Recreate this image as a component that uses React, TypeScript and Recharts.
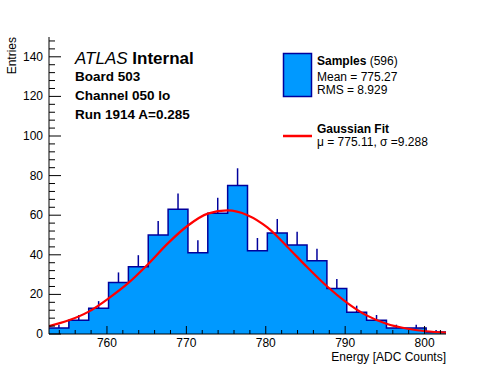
import React from 'react';
import { ComposedChart, Area, Line, Scatter, ErrorBar, XAxis, YAxis } from 'recharts';

// histogram bin edges (ADC counts) and entries per bin
const binEdges = [
  752.7, 755.2, 757.7, 760.2, 762.7, 765.2, 767.7, 770.2, 772.7, 775.2, 777.7,
  780.2, 782.7, 785.2, 787.7, 790.2, 792.7, 795.2, 797.7, 800.2, 802.7,
];
const counts = [3, 7, 13, 26, 34, 50, 63, 41, 61, 75, 42, 51, 45, 37, 23, 11, 7, 3, 3, 1];
// upper error bar length
const errUp = [1.7, 2.6, 3.6, 5.1, 5.8, 7.1, 7.9, 6.4, 7.8, 8.7, 6.5, 7.1, 6.7, 6.1, 4.8, 3.3, 2.6, 1.7, 1.7, 1.0];

// red fit curve
const fitX = [
  752.7, 755.2, 757.7, 760.2, 762.7, 765.2, 767.7, 770.2, 772.7, 775.2, 777.7,
  780.2, 782.7, 785.2, 787.7, 790.2, 792.7, 795.2, 797.7, 800.2, 802.7,
];
const fitY = [
  4.0, 6.9, 11.3, 18.0, 25.8, 35.4, 45.9, 54.8, 60.8, 62.4, 60.0,
  53.8, 44.1, 33.8, 24.1, 15.9, 9.4, 5.2, 2.8, 1.4, 0.7,
];

const xTicks = [
  754, 756, 758, 760, 762, 764, 766, 768, 770, 772, 774, 776, 778, 780,
  782, 784, 786, 788, 790, 792, 794, 796, 798, 800, 802,
];
const yTicks = [
  0, 4, 8, 12, 16, 20, 24, 28, 32, 36, 40, 44, 48, 52, 56, 60, 64, 68, 72, 76,
  80, 84, 88, 92, 96, 100, 104, 108, 112, 116, 120, 124, 128, 132, 136, 140, 144, 148,
];

const FONT = '"Liberation Sans", Arial, Helvetica, sans-serif';
const FILL = '#0099ff';
const EDGE = '#00009c';

const histData = binEdges.map((x, i) => ({ x, y: counts[Math.min(i, counts.length - 1)] }));
const errData = counts.map((c, i) => ({
  x: (binEdges[i] + binEdges[i + 1]) / 2,
  y: c,
  err: [0, errUp[i]],
}));
const fitData = fitX.map((x, i) => ({ x, y: fitY[i] }));

const XTick = (props: any) => {
  const { x, y, payload } = props;
  const v = payload.value;
  const major = v % 10 === 0;
  return (
    <g>
      <line x1={x} x2={x} y1={y} y2={y - (major ? 8 : 4)} stroke="#000" />
      {major && (
        <text x={x} y={y + 12.5} textAnchor="middle" fontSize={12} fontFamily={FONT} fill="#000">
          {v}
        </text>
      )}
    </g>
  );
};

const YTick = (props: any) => {
  const { x, y, payload } = props;
  const v = payload.value;
  const major = v % 20 === 0;
  return (
    <g>
      <line x1={x} x2={x + (major ? 12 : 6)} y1={y} y2={y} stroke="#000" />
      {major && (
        <text x={x - 6} y={y + 4} textAnchor="end" fontSize={12} fontFamily={FONT} fill="#000">
          {v}
        </text>
      )}
    </g>
  );
};

export default function App() {
  return (
    <div style={{ position: 'absolute', left: 0, top: 0, width: 496, height: 372, background: '#fff' }}>
      <ComposedChart width={496} height={372} margin={{ top: 37, right: 50, bottom: 0, left: 0 }}>
        <XAxis
          type="number"
          dataKey="x"
          domain={[752.7, 802.7]}
          ticks={xTicks}
          interval={0}
          tickSize={0}
          tickMargin={0}
          tickLine={false}
          tick={<XTick />}
          axisLine={{ stroke: '#000' }}
          height={38}
          allowDataOverflow
        />
        <XAxis
          xAxisId="top"
          orientation="top"
          type="number"
          domain={[752.7, 802.7]}
          height={0}
          tick={false}
          tickLine={false}
          axisLine={{ stroke: '#000' }}
        />
        <YAxis
          type="number"
          domain={[0, 150]}
          ticks={yTicks}
          interval={0}
          tickSize={0}
          tickMargin={0}
          tickLine={false}
          tick={<YTick />}
          axisLine={{ stroke: '#000' }}
          width={49}
          allowDataOverflow
        />
        <YAxis
          yAxisId="right"
          orientation="right"
          type="number"
          domain={[0, 150]}
          width={0}
          tick={false}
          tickLine={false}
          axisLine={{ stroke: '#000' }}
        />
        <Area
          data={histData}
          dataKey="y"
          type="stepAfter"
          fill={FILL}
          fillOpacity={1}
          stroke={EDGE}
          strokeWidth={1.5}
          isAnimationActive={false}
        />
        <Scatter data={errData} dataKey="y" shape={() => <g />} isAnimationActive={false}>
          <ErrorBar dataKey="err" direction="y" width={0} stroke={EDGE} strokeWidth={1.5} />
        </Scatter>
        <Line
          data={fitData}
          dataKey="y"
          type="monotone"
          stroke="#ff0000"
          strokeWidth={2.2}
          dot={false}
          isAnimationActive={false}
        />
      </ComposedChart>

      <svg
        width={496}
        height={372}
        style={{ position: 'absolute', left: 0, top: 0, pointerEvents: 'none' }}
        fontFamily={FONT}
      >
        <text transform="translate(15.5,37) rotate(-90)" textAnchor="end" fontSize={12}>
          Entries
        </text>
        <text x={446} y={360.5} textAnchor="end" fontSize={12}>
          Energy [ADC Counts]
        </text>

        <text x={75} y={63.5} fontSize={17}>
          <tspan fontStyle="italic">ATLAS</tspan>
          <tspan fontWeight="bold"> Internal</tspan>
        </text>
        <text x={75} y={81} fontSize={13.5} fontWeight="bold">Board 503</text>
        <text x={75} y={100} fontSize={13.5} fontWeight="bold">Channel 050 lo</text>
        <text x={75} y={118.5} fontSize={13.5} fontWeight="bold">Run 1914 A=0.285</text>

        <rect x={283.5} y={53.5} width={28} height={43} fill={FILL} stroke={EDGE} strokeWidth={1.5} />
        <text x={317} y={65} fontSize={12}>
          <tspan fontWeight="bold">Samples</tspan>
          <tspan> (596)</tspan>
        </text>
        <text x={317} y={80.5} fontSize={12}>Mean = 775.27</text>
        <text x={317} y={93.5} fontSize={12}>RMS = 8.929</text>

        <line x1={283} x2={312} y1={136} y2={136} stroke="#ff0000" strokeWidth={2.5} />
        <text x={317} y={132.5} fontSize={12} fontWeight="bold">Gaussian Fit</text>
        <text x={317} y={145.5} fontSize={12}>μ = 775.11, σ =9.288</text>
      </svg>
    </div>
  );
}
